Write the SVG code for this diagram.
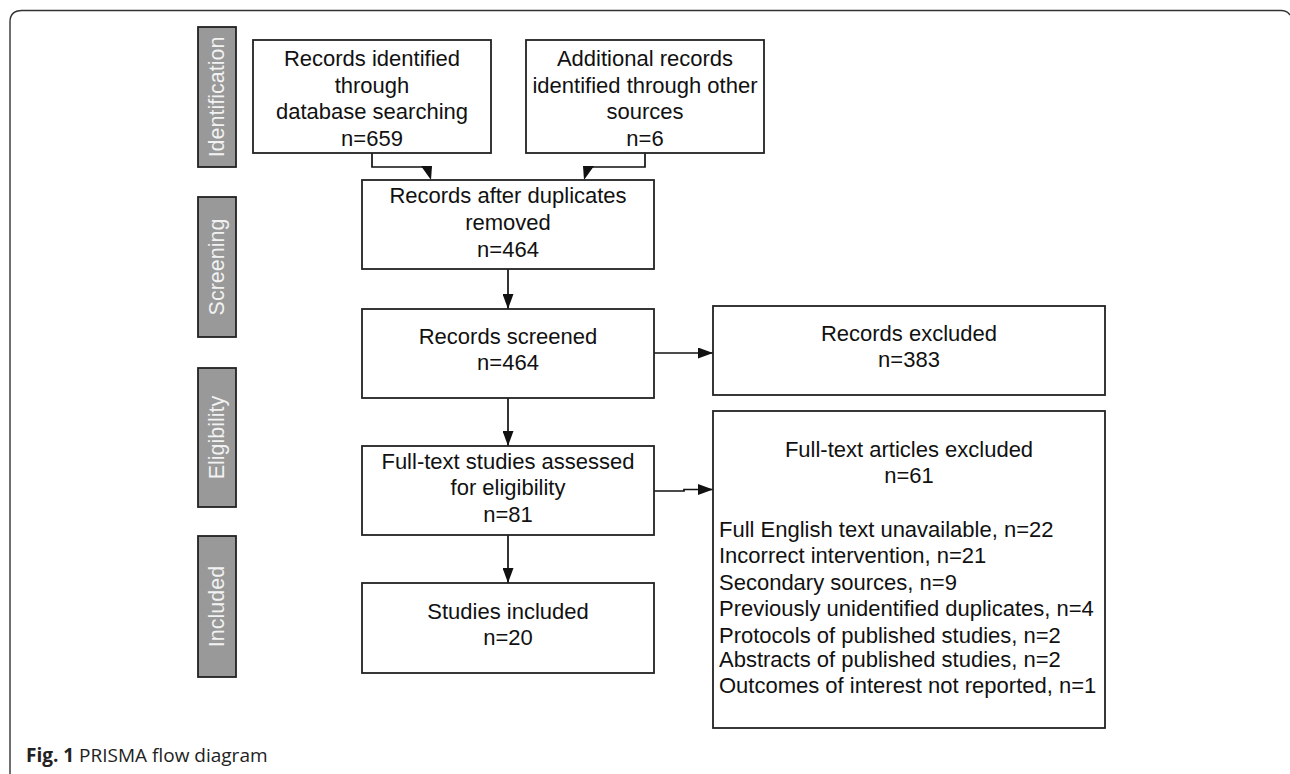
<svg xmlns="http://www.w3.org/2000/svg" width="1290" height="774" viewBox="0 0 1290 774">
<style>
.box{fill:#fff;stroke:#222;stroke-width:1.8}
.bar{fill:#999;stroke:#222;stroke-width:1.8}
.t{font-family:"Liberation Sans",Arial,sans-serif;font-size:22px;fill:#111;text-anchor:middle}
.l{font-family:"Liberation Sans",Arial,sans-serif;font-size:22px;fill:#111}
.s{font-family:"Liberation Sans",Arial,sans-serif;font-size:21.5px;fill:#f2f2f2;text-anchor:middle}
.c{fill:none;stroke:#111;stroke-width:1.7}
.cap{font-family:"Open Sans","Noto Sans",sans-serif;font-size:19px;fill:#222}
</style>
<defs>
<marker id="ah" markerUnits="userSpaceOnUse" markerWidth="15" markerHeight="11" refX="15" refY="5.5" orient="auto">
<path d="M0,0 L15,5.5 L0,11 z" fill="#111"/>
</marker>
</defs>
<rect width="1290" height="774" fill="#fff"/>
<path d="M10,774 V22 Q10,10.5 22,10.5 H1281 Q1287,10.5 1290,15" fill="none" stroke="#333" stroke-width="1.4"/>

<g id="bar-identification"><rect class="bar" x="198" y="27" width="38" height="140"/><text class="s" transform="translate(224,97) rotate(-90)">Identification</text></g>
<g id="bar-screening"><rect class="bar" x="198" y="197" width="38" height="140"/><text class="s" transform="translate(224,267) rotate(-90)">Screening</text></g>
<g id="bar-eligibility"><rect class="bar" x="198" y="368" width="38" height="139"/><text class="s" transform="translate(224,437.5) rotate(-90)">Eligibility</text></g>
<g id="bar-included"><rect class="bar" x="198" y="536" width="38" height="141"/><text class="s" transform="translate(224,606.5) rotate(-90)">Included</text></g>

<g id="connectors">
<path class="c" d="M372,153 V167 H423"/>
<polygon points="421,166 432,166 431,180" fill="#111"/>
<path class="c" d="M645,153 V167 H592"/>
<polygon points="583,166 594,166 584,180" fill="#111"/>
<path class="c" d="M508,269 V309" marker-end="url(#ah)"/>
<path class="c" d="M508,398 V446" marker-end="url(#ah)"/>
<path class="c" d="M508,535 V583" marker-end="url(#ah)"/>
<path class="c" d="M654,353 H713" marker-end="url(#ah)"/>
<path class="c" d="M654,491 H684 V489.5 H713" marker-end="url(#ah)"/>
</g>

<g id="n1"><rect class="box" x="253" y="40" width="238" height="113"/>
<text class="t" x="372" y="66">Records identified</text>
<text class="t" x="372" y="93">through</text>
<text class="t" x="372" y="119">database searching</text>
<text class="t" x="372" y="146">n=659</text></g>

<g id="n2"><rect class="box" x="526" y="40" width="238" height="113"/>
<text class="t" x="645" y="66">Additional records</text>
<text class="t" x="645" y="93">identified through other</text>
<text class="t" x="645" y="119">sources</text>
<text class="t" x="645" y="146">n=6</text></g>

<g id="n3"><rect class="box" x="362" y="180" width="292" height="89"/>
<text class="t" x="508" y="203">Records after duplicates</text>
<text class="t" x="508" y="230">removed</text>
<text class="t" x="508" y="257">n=464</text></g>

<g id="n4"><rect class="box" x="362" y="309" width="292" height="89"/>
<text class="t" x="508" y="344">Records screened</text>
<text class="t" x="508" y="370">n=464</text></g>

<g id="n5"><rect class="box" x="362" y="446" width="292" height="89"/>
<text class="t" x="508" y="469">Full-text studies assessed</text>
<text class="t" x="508" y="495">for eligibility</text>
<text class="t" x="508" y="522">n=81</text></g>

<g id="n6"><rect class="box" x="362" y="583" width="292" height="90"/>
<text class="t" x="508" y="619">Studies included</text>
<text class="t" x="508" y="645">n=20</text></g>

<g id="n7"><rect class="box" x="713" y="306" width="392" height="89"/>
<text class="t" x="909" y="341">Records excluded</text>
<text class="t" x="909" y="367">n=383</text></g>

<g id="n8"><rect class="box" x="713" y="411" width="392" height="317"/>
<text class="t" x="909" y="457">Full-text articles excluded</text>
<text class="t" x="909" y="483">n=61</text>
<text class="l" x="719" y="537">Full English text unavailable, n=22</text>
<text class="l" x="719" y="563">Incorrect intervention, n=21</text>
<text class="l" x="719" y="590">Secondary sources, n=9</text>
<text class="l" x="719" y="616">Previously unidentified duplicates, n=4</text>
<text class="l" x="719" y="643">Protocols of published studies, n=2</text>
<text class="l" x="719" y="667">Abstracts of published studies, n=2</text>
<text class="l" x="719" y="693">Outcomes of interest not reported, n=1</text></g>

<text class="cap" x="26" y="762"><tspan font-weight="bold">Fig. 1</tspan> PRISMA flow diagram</text>
</svg>
